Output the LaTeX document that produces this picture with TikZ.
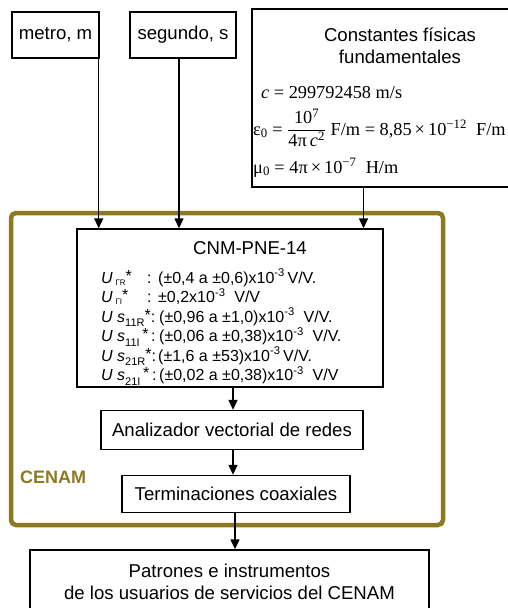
\documentclass[tikz,border=0pt]{standalone}
\usepackage[no-math]{fontspec}
\setmainfont{Liberation Sans}
\newfontfamily\eqfont{Liberation Serif}
\usetikzlibrary{arrows.meta, positioning}
\definecolor{cenamolive}{HTML}{8C7A22}

\begin{document}
\begin{tikzpicture}[x=1pt, y=-1pt,
  box/.style={rectangle, draw=black, line width=1.4pt, inner sep=0pt, align=center, font=\fontsize{18.6}{22}\selectfont},
  arr/.style={-{Triangle[length=10pt, width=9pt]}, line width=1.4pt},
  row/.style={anchor=base west, inner sep=0pt, font=\fontsize{16}{18}\selectfont},
  eq/.style={anchor=base west, inner sep=0pt, font=\fontsize{18.3}{20}\eqfont}]
\useasboundingbox (0,0) rectangle (508,608);

% Boxes on top
\node[box, minimum width=87, minimum height=46] (metro) at (55.5,35) {metro, m};
\node[box, minimum width=106, minimum height=46] (segundo) at (183,35) {segundo, s};
\node[box, minimum width=257, minimum height=178] (const) at (380.5,98) {};

% Text of the constants box
\node[align=center, inner sep=0pt, font=\fontsize{18.6}{22}\selectfont] (consttitle) at (400,46) {Constantes físicas\\fundamentales};
\node[eq] (ceq) at (261,98) {\textit{c} = 299792458 m/s};
\node[eq] (epseq) at (253,135) {ε\textsubscript{0} = $\displaystyle\frac{\mbox{10\textsuperscript{7}}}{\mbox{4π\,\textit{c}\textsuperscript{2}}}$ F/m = 8,85\,×\,10\textsuperscript{−12}\ \ F/m};
\node[eq] (mueq) at (253,173) {μ\textsubscript{0} = 4π\,×\,10\textsuperscript{−7}\ \ H/m};

% CENAM frame
\node[rectangle, rounded corners=5pt, minimum width=432, minimum height=312, draw=cenamolive, line width=4.5pt] (cenam) at (227,369) {};
\node[font=\fontsize{18}{20}\selectfont\bfseries, text=cenamolive, anchor=west, inner sep=0pt] (cenamlabel) at (20,477) {CENAM};

% Main box with uncertainties
\node[box, minimum width=306, minimum height=158] (cnm) at (230,308) {};
\node[font=\fontsize{18.6}{22}\selectfont, anchor=base, inner sep=0pt] (cnmtitle) at (250,254) {CNM-PNE-14};

\node[row] (r1) at (101,283) {\textit{U}\,\raisebox{-0.15em}{\fontsize{8}{9}\selectfont ΓR}\raisebox{0.1em}{*}};
\node[row] (r2) at (101,302.5) {\textit{U}\,\raisebox{-0.15em}{\fontsize{8}{9}\selectfont ΓI}\raisebox{0.1em}{*}};
\node[row] at (147,283) {:};
\node[row] at (147,302.5) {:};
\node[row] (r3) at (101,322) {\textit{U s}\raisebox{-0.3em}{\fontsize{11}{12}\selectfont 11R}\raisebox{0.1em}{*}:};
\node[row] (r4) at (101,341.5) {\textit{U s}\raisebox{-0.3em}{\fontsize{11}{12}\selectfont 11I}\raisebox{0.1em}{\,*}\,:};
\node[row] (r5) at (101,361) {\textit{U s}\raisebox{-0.3em}{\fontsize{11}{12}\selectfont 21R}\raisebox{0.1em}{*}:};
\node[row] (r6) at (101,380.5) {\textit{U s}\raisebox{-0.3em}{\fontsize{11}{12}\selectfont 21I}\raisebox{0.1em}{\,*}\,:};

\node[row] (v1) at (158,283) {(±0,4 a ±0,6)x10\textsuperscript{-3}\,V/V.};
\node[row] (v2) at (158,302.5) {±0,2x10\textsuperscript{-3}\ \ V/V};
\node[row] (v3) at (159,322) {(±0,96 a ±1,0)x10\textsuperscript{-3}\ \ V/V.};
\node[row] (v4) at (159,341.5) {(±0,06 a ±0,38)x10\textsuperscript{-3}\ \ V/V.};
\node[row] (v5) at (158,361) {(±1,6 a ±53)x10\textsuperscript{-3}\,V/V.};
\node[row] (v6) at (159,380.5) {(±0,02 a ±0,38)x10\textsuperscript{-3}\ \ V/V};

% Lower chain
\node[box, minimum width=262, minimum height=39] (vna) at (232,430) {Analizador vectorial de redes};
\node[box, minimum width=228, minimum height=37] (term) at (236,494) {Terminaciones coaxiales};
\node[box, minimum width=399, minimum height=64, font=\fontsize{18.6}{21.5}\selectfont] (users) at (229.5,582) {Patrones e instrumentos\\de los usuarios de servicios del CENAM};

% Connectors
\draw[arr] ([xshift=-1pt]metro.south east) -- ([xshift=-1pt]metro.south east |- cnm.north);
\draw[arr] (segundo.south) ++(-4pt,0) coordinate (segout) -- (segout |- cnm.north);
\draw[arr] ([xshift=-17pt]const.south) -- ([xshift=-17pt]const.south |- cnm.north);
\draw[arr] (cnm.south -| vna.north) ++(1pt,0) coordinate (cnmout) -- (cnmout |- vna.north);
\draw[arr] (cnmout |- vna.south) -- (cnmout |- term.north);
\draw[arr] ([xshift=-1pt]term.south) -- ([xshift=-1pt]term.south |- users.north);
\end{tikzpicture}
\end{document}
